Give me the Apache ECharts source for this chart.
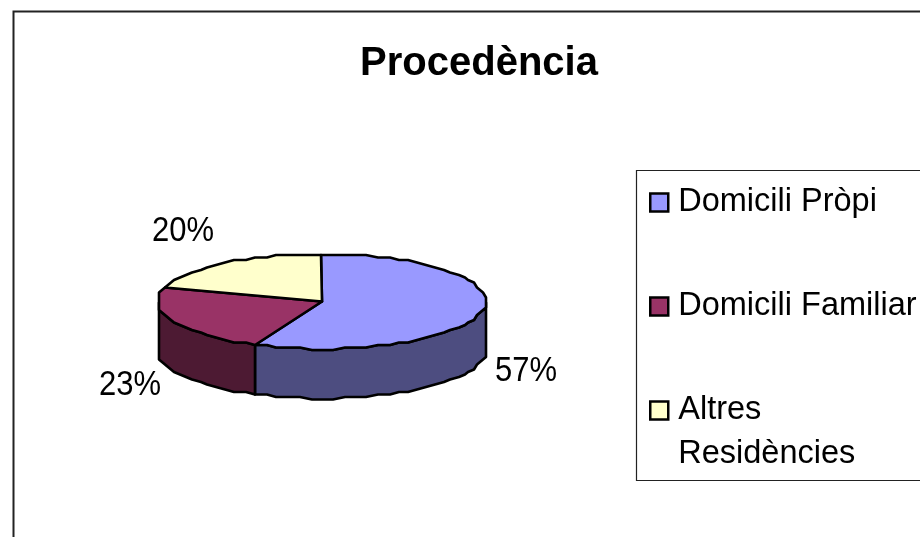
<!DOCTYPE html>
<html><head><meta charset="utf-8">
<style>html,body{margin:0;padding:0;background:#fff}#c{width:920px;height:537px}</style>
<script src="https://cdn.jsdelivr.net/npm/echarts@6/dist/echarts.min.js"></script>
</head><body><div id="c"></div>
<script>
const titleText = 'Procedència';
const categories = ['Domicili Pròpi', 'Domicili Familiar', 'Altres Residències'];
const legendLines = ['\nDomicili Pròpi\n ', '\nDomicili Familiar\n ', '\nAltres\nResidències'];
const values = [56.6, 23.2, 20.2];
const topColors = ['#9999FF', '#993366', '#FFFFCC'];
const sideColors = ['#4D4D80', '#4D1A33', '#808066'];
const labelOffsets = [[43.6, 60.2], [-42.7, 63.8], [-41.7, -32]];

const FONT = '"Liberation Sans", Arial, sans-serif';
const cx = 322, cy = 301.5, rx = 164, ry = 47.5, depth = 49.5, STEP = 4, GX = 3, GY = 2.5;
const total = values.reduce((a, b) => a + b, 0);

function rim(deg, dy) {
  const t = deg * Math.PI / 180;
  const x = cx + rx * Math.sin(t), y = cy - ry * Math.cos(t);
  // the original is a low-resolution raster: its outline sits on a coarse pixel grid
  return [Math.round(x / GX) * GX, Math.round(y / GY) * GY + (dy || 0)];
}
function arcPts(a0, a1, dy) {
  const pts = [rim(a0, dy)];
  let a = Math.ceil((a0 + 1e-6) / STEP) * STEP;
  for (; a < a1 - 1e-6; a += STEP) pts.push(rim(a, dy));
  pts.push(rim(a1, dy));
  return pts;
}
const stroke = { stroke: '#000', lineWidth: 2.6, lineJoin: 'round' };

function makeRender(idx) {
  return function (params, api) {
    const v = api.value(0);
    let before = 0;
    for (let i = 0; i < idx; i++) before += values[i];
    const a0 = before / total * 360, a1 = (before + v) / total * 360;
    const children = [];
    const s0 = Math.max(a0, 90), s1 = Math.min(a1, 270);
    if (s1 > s0) {
      const up = arcPts(s0, s1, 0), down = arcPts(s0, s1, depth).reverse();
      children.push({ type: 'polygon', shape: { points: up.concat(down) },
        style: Object.assign({ fill: sideColors[idx] }, stroke) });
    }
    children.push({ type: 'polygon', shape: { points: [[cx, cy]].concat(arcPts(a0, a1, 0)) },
      style: Object.assign({ fill: topColors[idx] }, stroke) });
    const t = (a0 + a1) / 2 * Math.PI / 180;
    const mx = cx + rx * Math.sin(t), my = cy - ry * Math.cos(t);
    const lx = mx + labelOffsets[idx][0], ly = my + labelOffsets[idx][1];
    children.push({ type: 'text', x: lx, y: ly, scaleY: 1.12, style: {
      text: Math.round(v) + '%', x: 0, y: 0,
      align: 'center', verticalAlign: 'middle', font: '31px ' + FONT, fill: '#000' } });
    return { type: 'group', children };
  };
}

const chart = echarts.init(document.getElementById('c'), null, { renderer: 'canvas' });
chart.setOption({
  animation: false,
  backgroundColor: '#fff',
  title: { text: titleText, left: 479, top: 44, textAlign: 'center', padding: 0,
    textStyle: { fontFamily: FONT, fontSize: 40, fontWeight: 'bold', color: '#000' } },
  legend: {
    left: 649, top: 130, orient: 'vertical', itemWidth: 18, itemHeight: 18, itemGap: -41, padding: 0,
    selectedMode: false, icon: 'rect',
    itemStyle: { borderColor: '#000', borderWidth: 2.5 },
    data: categories,
    formatter: n => legendLines[categories.indexOf(n)],
    textStyle: { fontFamily: FONT, fontSize: 32.5, lineHeight: 44, color: '#000', padding: [0, 0, 13, 5] }
  },
  graphic: [
    { type: 'polyline', silent: true, z: 0, shape: { points: [[13.5, 540], [13.5, 11.5], [925, 11.5]] },
      style: { fill: null, stroke: '#222', lineWidth: 2 } },
    { type: 'polyline', silent: true, z: 0, shape: { points: [[925, 170.5], [636.5, 170.5], [636.5, 480.5], [925, 480.5]] },
      style: { fill: null, stroke: '#222', lineWidth: 1.2 } }
  ],
  series: categories.map((name, i) => ({
    type: 'custom', name, coordinateSystem: 'none', silent: true,
    itemStyle: { color: topColors[i] },
    renderItem: makeRender(i),
    data: [[values[i]]]
  }))
});
</script></body></html>
